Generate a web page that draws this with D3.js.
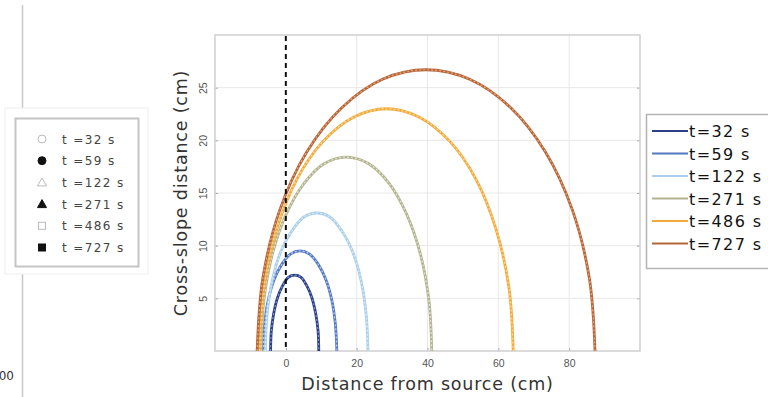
<!DOCTYPE html>
<html><head><meta charset="utf-8">
<script src="https://cdn.jsdelivr.net/npm/d3@7"></script>
<style>
html,body{margin:0;padding:0;background:#fff;overflow:hidden;}
svg{display:block;font-family:"DejaVu Sans",sans-serif;}
</style></head>
<body><svg id="chart" width="768" height="397"></svg>
<script>
// ---------- data ----------
const seriesNames = ["t=32 s","t=59 s","t=122 s","t=271 s","t=486 s","t=727 s"];
const leftLegendNames = ["t =32 s","t =59 s","t =122 s","t =271 s","t =486 s","t =727 s"];
const xTicks = [0,20,40,60,80];
const yTicks = [5,10,15,20,25];

const t32x  = [-4.3,-4.1,-3.4,-2.3,-0.9,0.7,2.5,4.3,5.9,7.3,8.4,9.1,9.3];
const t32y  = [0,1.9,3.6,5.1,6.2,7.0,7.2,7.0,6.2,5.1,3.6,1.9,0];
const t59x  = [-6.4,-6.0,-5.0,-3.4,-1.2,1.3,4.0,6.7,9.2,11.4,13.0,14.0,14.4];
const t59y  = [0,2.5,4.8,6.7,8.2,9.2,9.5,9.2,8.2,6.7,4.8,2.5,0];
const t122x = [-5.8,-5.3,-3.9,-1.6,1.5,5.0,8.7,12.5,16.0,19.0,21.3,22.7,23.2];
const t122y = [0,3.4,6.6,9.3,11.3,12.7,13.1,12.7,11.3,9.3,6.6,3.4,0];
const t271x = [-7.0,-6.2,-3.8,0.1,5.1,10.9,17.1,23.3,29.2,34.1,38.0,40.4,41.2];
const t271y = [0,4.8,9.2,13.0,15.9,17.8,18.4,17.8,15.9,13.0,9.2,4.8,0];
const t486x = [-7.4,-6.2,-2.6,3.1,10.5,19.1,28.4,37.7,46.3,53.7,59.4,63.0,64.2];
const t486y = [0,6.0,11.5,16.3,19.9,22.2,23.0,22.2,19.9,16.3,11.5,6.0,0];
const t727x = [-8.1,-6.5,-1.7,5.9,15.8,27.3,39.6,51.9,63.5,73.3,80.9,85.7,87.3];
const t727y = [0,6.9,13.4,18.9,23.1,25.8,26.7,25.8,23.1,18.9,13.4,6.9,0];

const seriesX = [t32x,t59x,t122x,t271x,t486x,t727x];
const seriesY = [t32y,t59y,t122y,t271y,t486y,t727y];
const colors     = ["#2a3f86","#5478c4","#a9cfea","#b3b48f","#f2aa3c","#b5653a"];
const lightCols  = ["#7f95d0","#b9cdef","#dcecf8","#e4e4d2","#ffdc98","#eba67a"];
const markers = ["circleOpen","circleFill","triOpen","triFill","sqOpen","sqFill"];

// ---------- layout ----------
const svg = d3.select("#chart");
const x = d3.scaleLinear().domain([-20,100]).range([215,640]);
const y = d3.scaleLinear().domain([0,30]).range([351,35]);

// left partial panel: vertical line + legend
svg.append("line").attr("x1",22.5).attr("x2",22.5).attr("y1",5).attr("y2",397)
  .attr("stroke","#c8c8c8").attr("stroke-width",1.5);
svg.append("rect").attr("x",5).attr("y",108).attr("width",143).attr("height",166)
  .attr("fill","#fff").attr("stroke","#eee");
svg.append("rect").attr("x",15.5).attr("y",118.5).attr("width",123).attr("height",148)
  .attr("fill","#fff").attr("stroke","#c4c4c4").attr("stroke-width",2);
svg.append("text").attr("x",14).attr("y",380).attr("text-anchor","end")
  .attr("font-size",12).attr("fill","#333").text("00");

const ll = svg.append("g");
leftLegendNames.forEach((n,i)=>{
  const cy = 139 + i*21.7, cx = 42;
  const m = markers[i];
  const open = m.endsWith("Open");
  const fill = open ? "#fff" : "#111";
  const stroke = open ? "#bbb" : "#111";
  if (m.startsWith("circle")) ll.append("circle").attr("cx",cx).attr("cy",cy).attr("r",4).attr("fill",fill).attr("stroke",stroke);
  else if (m.startsWith("tri")) ll.append("path").attr("d",`M${cx},${cy-4.5}L${cx+4.5},${cy+3.5}L${cx-4.5},${cy+3.5}Z`).attr("fill",fill).attr("stroke",stroke);
  else ll.append("rect").attr("x",cx-3.5).attr("y",cy-3.5).attr("width",7).attr("height",7).attr("fill",fill).attr("stroke",stroke);
  ll.append("text").attr("x",62).attr("y",cy+4.5).attr("font-size",12).attr("letter-spacing",1.4)
    .attr("fill","#444").text(n);
});

// gridlines
const g = svg.append("g");
g.selectAll(".gx").data(xTicks.filter(d=>d!==0)).join("line")
  .attr("x1",d=>x(d)).attr("x2",d=>x(d)).attr("y1",y(30)).attr("y2",y(0))
  .attr("stroke","#e8e8e8").attr("stroke-width",1);
g.selectAll(".gy").data(yTicks).join("line")
  .attr("x1",x(-20)).attr("x2",x(100)).attr("y1",d=>y(d)).attr("y2",d=>y(d))
  .attr("stroke","#e8e8e8").attr("stroke-width",1);

// axes (ticks inward)
const xAxis = d3.axisBottom(x).tickValues(xTicks).tickSize(-3).tickPadding(9).tickFormat(d3.format("d"));
const yAxis = d3.axisLeft(y).tickValues(yTicks).tickSize(-3).tickPadding(6).tickFormat(d3.format("d"));
const gx = svg.append("g").attr("transform",`translate(0,${y(0)})`).call(xAxis);
const gy = svg.append("g").attr("transform",`translate(${x(-20)},0)`).call(yAxis);
const gyr = svg.append("g").attr("transform",`translate(${x(100)},0)`).call(d3.axisRight(y).tickValues(yTicks).tickSize(-3).tickFormat(""));
[gx,gy,gyr].forEach(a=>{a.select(".domain").remove(); a.selectAll(".tick line").attr("stroke","#aaa");});
gx.selectAll("text").attr("font-size",10.5).attr("fill","#555");
gy.selectAll("text").attr("font-size",10.5).attr("fill","#555")
  .attr("text-anchor","middle").attr("x",0).attr("dy",0)
  .attr("transform","translate(-8,0) rotate(-90)");

// frame
svg.append("rect").attr("x",x(-20)).attr("y",y(30)).attr("width",x(100)-x(-20)).attr("height",y(0)-y(30))
  .attr("fill","none").attr("stroke","#cfcfcf").attr("stroke-width",1.5);

// curves
const line = d3.line().x(d=>x(d[0])).y(d=>y(d[1])).curve(d3.curveCatmullRom.alpha(0.5));
const cg = svg.append("g");
for (let i=0;i<seriesNames.length;i++){
  const pts = seriesX[i].map((v,j)=>[v,seriesY[i][j]]);
  cg.append("path").attr("d",line(pts)).attr("fill","none").attr("stroke",colors[i]).attr("stroke-width",2.8);
  cg.append("path").attr("d",line(pts)).attr("fill","none").attr("stroke",lightCols[i])
    .attr("stroke-width",1.2).attr("stroke-dasharray","2,2");
}

// dashed source line
svg.append("line").attr("x1",x(0)).attr("x2",x(0)).attr("y1",y(30)+1).attr("y2",y(0))
  .attr("stroke","#111").attr("stroke-width",2).attr("stroke-dasharray","5,4");

// axis titles
svg.append("text").attr("x",(x(-20)+x(100))/2).attr("y",390).attr("text-anchor","middle")
  .attr("font-size",17.5).attr("letter-spacing",0.8).attr("fill","#333").text("Distance from source (cm)");
svg.append("text").attr("transform",`translate(187,${(y(0)+y(30))/2}) rotate(-90)`).attr("text-anchor","middle")
  .attr("font-size",17.5).attr("letter-spacing",0.8).attr("fill","#333").text("Cross-slope distance (cm)");

// right legend
const rl = svg.append("g");
rl.append("rect").attr("x",646.5).attr("y",114.5).attr("width",140).attr("height",154)
  .attr("fill","#fff").attr("stroke","#b4b4b4").attr("stroke-width",1.5);
seriesNames.forEach((n,i)=>{
  const cy = 131 + i*22.5;
  rl.append("line").attr("x1",652).attr("x2",688).attr("y1",cy).attr("y2",cy)
    .attr("stroke",colors[i]).attr("stroke-width",2);
  rl.append("text").attr("x",689).attr("y",cy+6).attr("font-size",16).attr("fill","#111")
    .attr("letter-spacing",1.4).text(n);
});
</script></body></html>
